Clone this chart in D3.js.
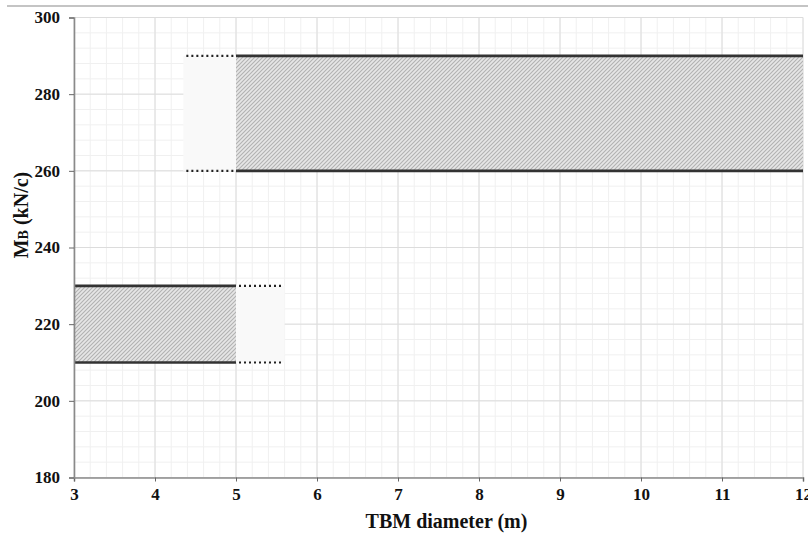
<!DOCTYPE html>
<html>
<head>
  <title>TBM diameter vs MB</title>
  <script src="https://d3js.org/d3.v7.min.js"></script>
  <style>
  body {
    margin: 0;
    background: #fff;
  }
  </style>
</head>
<body>
  <script>
    // ranges
    var bandStart = [5, 3];
    var bandEnd = [12, 5];
    var bandLow = [260, 210];
    var bandHigh = [290, 230];
    // dotted extensions of each band
    var extStart = [4.35, 5];
    var extEnd = [5, 5.6];

    var xTicks = [3, 4, 5, 6, 7, 8, 9, 10, 11, 12];
    var yTicks = [180, 200, 220, 240, 260, 280, 300];

    var width = 808;
    var height = 535;
    var serif = "Liberation Serif";

    var svg = d3.select("body")
      .append("svg")
      .attr("width", width)
      .attr("height", height);

    var x = d3.scaleLinear().domain([3, 12]).range([74, 803]);
    var y = d3.scaleLinear().domain([180, 300]).range([477.5, 17.5]);

    // thin border line at top of the image
    svg.append("line")
      .attr("x1", 7).attr("x2", width)
      .attr("y1", 6).attr("y2", 6)
      .attr("stroke", "#b0b0b0")
      .attr("stroke-width", 1.5);

    var defs = svg.append("defs");
    var hatch = defs.append("pattern")
      .attr("id", "hatch")
      .attr("patternUnits", "userSpaceOnUse")
      .attr("width", 4)
      .attr("height", 4);
    hatch.append("rect")
      .attr("width", 4).attr("height", 4)
      .attr("fill", "#e6e6e6");
    hatch.append("path")
      .attr("d", "M-1,1 l2,-2 M0,4 l4,-4 M3,5 l2,-2")
      .attr("stroke", "#b2b2b2")
      .attr("stroke-width", 1.1);

    // grid
    var grid = svg.append("g");
    grid.selectAll("line.minx")
      .data(d3.range(0, 46).map(function(i) { return 3 + i * 0.2; }))
      .enter().append("line")
      .attr("x1", function(d) { return x(d); })
      .attr("x2", function(d) { return x(d); })
      .attr("y1", y(180)).attr("y2", y(300))
      .attr("stroke", "#f0f0f0");
    grid.selectAll("line.miny")
      .data(d3.range(0, 31).map(function(i) { return 180 + i * 4; }))
      .enter().append("line")
      .attr("x1", x(3)).attr("x2", x(12))
      .attr("y1", function(d) { return y(d); })
      .attr("y2", function(d) { return y(d); })
      .attr("stroke", "#f0f0f0");
    grid.selectAll("line.majx")
      .data(xTicks)
      .enter().append("line")
      .attr("x1", function(d) { return x(d); })
      .attr("x2", function(d) { return x(d); })
      .attr("y1", y(180)).attr("y2", y(300))
      .attr("stroke", "#dcdcdc");
    grid.selectAll("line.majy")
      .data(yTicks)
      .enter().append("line")
      .attr("x1", x(3)).attr("x2", x(12))
      .attr("y1", function(d) { return y(d); })
      .attr("y2", function(d) { return y(d); })
      .attr("stroke", "#dcdcdc");

    var idx = d3.range(bandStart.length);

    // dotted extension areas (pale fill hides the grid)
    svg.append("g").selectAll("rect")
      .data(idx)
      .enter().append("rect")
      .attr("x", function(i) { return x(extStart[i]); })
      .attr("width", function(i) { return x(extEnd[i]) - x(extStart[i]); })
      .attr("y", function(i) { return y(bandHigh[i]); })
      .attr("height", function(i) { return y(bandLow[i]) - y(bandHigh[i]); })
      .attr("fill", "#f9f9f9");

    // hatched bands
    svg.append("g").selectAll("rect")
      .data(idx)
      .enter().append("rect")
      .attr("x", function(i) { return x(bandStart[i]); })
      .attr("width", function(i) { return x(bandEnd[i]) - x(bandStart[i]); })
      .attr("y", function(i) { return y(bandHigh[i]); })
      .attr("height", function(i) { return y(bandLow[i]) - y(bandHigh[i]); })
      .attr("fill", "url(#hatch)");

    // solid and dotted edges
    var edges = [];
    idx.forEach(function(i) {
      [bandLow[i], bandHigh[i]].forEach(function(v) {
        edges.push({ a: bandStart[i], b: bandEnd[i], v: v, dotted: false });
        edges.push({ a: extStart[i], b: extEnd[i], v: v, dotted: true });
      });
    });
    svg.append("g").selectAll("line")
      .data(edges)
      .enter().append("line")
      .attr("x1", function(d) { return x(d.a) + (d.dotted ? 3 : 0); })
      .attr("x2", function(d) { return x(d.b) - (d.dotted ? 2 : 0); })
      .attr("y1", function(d) { return y(d.v); })
      .attr("y2", function(d) { return y(d.v); })
      .attr("stroke", function(d) { return d.dotted ? "#222" : "#333"; })
      .attr("stroke-width", function(d) { return d.dotted ? 2.2 : 2.6; })
      .attr("stroke-dasharray", function(d) { return d.dotted ? "2,3" : null; });

    // axes
    var xAxis = svg.append("g")
      .attr("transform", "translate(0," + y(180) + ")")
      .call(d3.axisBottom(x).tickValues(xTicks).tickSize(4).tickFormat(d3.format("d")));
    xAxis.select(".domain").attr("stroke", "#8a8a8a").attr("stroke-width", 1.6);
    xAxis.selectAll(".tick line").attr("stroke", "#666");
    xAxis.selectAll(".tick text")
      .attr("y", 10)
      .attr("font-family", serif)
      .attr("font-weight", "bold")
      .attr("font-size", 17)
      .attr("fill", "#111");

    var yAxis = svg.append("g")
      .attr("transform", "translate(" + x(3) + ",0)")
      .call(d3.axisLeft(y).tickValues(yTicks).tickSize(5).tickFormat(d3.format("d")));
    yAxis.select(".domain").attr("stroke", "#8a8a8a").attr("stroke-width", 1.6);
    yAxis.selectAll(".tick line").attr("stroke", "#666");
    yAxis.selectAll(".tick text")
      .attr("x", -14)
      .attr("font-family", serif)
      .attr("font-weight", "bold")
      .attr("font-size", 17)
      .attr("fill", "#111");

    // axis titles
    svg.append("text")
      .attr("x", (x(3) + x(12)) / 2 + 8)
      .attr("y", 528)
      .attr("text-anchor", "middle")
      .attr("font-family", serif)
      .attr("font-weight", "bold")
      .attr("font-size", 20)
      .attr("fill", "#111")
      .text("TBM diameter (m)");

    var yTitle = svg.append("text")
      .attr("transform", "translate(28," + 215 + ") rotate(-90)")
      .attr("text-anchor", "middle")
      .attr("font-family", serif)
      .attr("font-weight", "bold")
      .attr("font-size", 20)
      .attr("fill", "#111");
    yTitle.append("tspan").text("M");
    yTitle.append("tspan").attr("font-size", 14).text("B");
    yTitle.append("tspan").text(" (kN/c)");
  </script>
</body>
</html>
